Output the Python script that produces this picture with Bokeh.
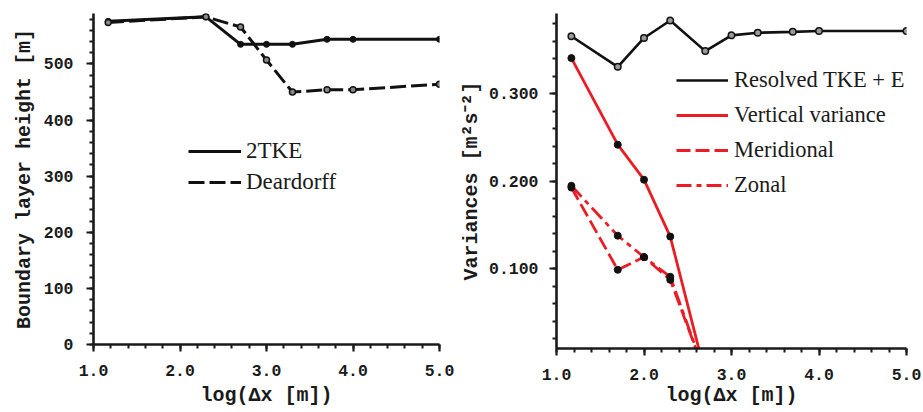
from bokeh.plotting import figure
from bokeh.layouts import row
from bokeh.models import (Range1d, SingleIntervalTicker, NumeralTickFormatter,
                          Legend, LegendItem)
from bokeh.embed import file_html
from bokeh.resources import INLINE

# ---------------- data ----------------
# left panel: boundary layer height [m] vs log10(dx)
x_left = [1.17, 2.30, 2.70, 3.00, 3.30, 3.70, 4.00, 5.00]
bl_2tke = [576, 584, 535, 535, 535, 544, 544, 544]
bl_deardorff = [574, 584, 566, 507, 450, 454, 454, 464]

# right panel: variances [m2 s-2] vs log10(dx)
x_right = [1.17, 1.70, 2.00, 2.30, 2.70, 3.00, 3.30, 3.70, 4.00, 5.00]
resolved_tke_e = [0.366, 0.331, 0.364, 0.384, 0.349, 0.367, 0.370, 0.371, 0.372, 0.372]
x_red = [1.17, 1.70, 2.00, 2.30, 2.70]
vertical_var = [0.341, 0.242, 0.202, 0.137, -0.02]
meridional = [0.193, 0.099, 0.1135, 0.0875, -0.02]
zonal = [0.195, 0.138, 0.1135, 0.091, -0.02]

left_labels = ["2TKE", "Deardorff"]
right_labels = ["Resolved TKE + E", "Vertical variance", "Meridional", "Zonal"]

RED = "#ec1c24"
MONO = "Liberation Mono"
SERIF = "Liberation Serif"


def style(p, xl, yl, yfmt, yint, y_std, y_title_std, x_title_std):
    p.outline_line_color = None
    p.xgrid.visible = False
    p.ygrid.visible = False
    p.background_fill_color = "white"
    p.border_fill_color = "white"
    for ax in (p.xaxis[0], p.yaxis[0]):
        ax.axis_line_width = 2.6
        ax.axis_line_color = "#1a1a1a"
        ax.major_tick_line_width = 2.2
        ax.minor_tick_line_width = 2.0
        ax.major_tick_line_color = "#1a1a1a"
        ax.minor_tick_line_color = "#1a1a1a"
        ax.major_tick_in = 0
        ax.major_tick_out = 7
        ax.minor_tick_in = 0
        ax.minor_tick_out = 4
        ax.major_label_text_font = MONO
        ax.major_label_text_font_size = "16.5px"
        ax.major_label_text_font_style = "bold"
        ax.major_label_text_color = "#1a1a1a"
        ax.axis_label_text_font = MONO
        ax.axis_label_text_font_size = "20px"
        ax.axis_label_text_font_style = "bold"
        ax.axis_label_text_color = "#1a1a1a"
    p.xaxis.axis_label = xl
    p.yaxis.axis_label = yl
    p.xaxis.ticker = SingleIntervalTicker(interval=1, num_minor_ticks=5)
    p.xaxis.formatter = NumeralTickFormatter(format="0.0")
    p.yaxis.ticker = SingleIntervalTicker(interval=yint, num_minor_ticks=5)
    p.yaxis.formatter = NumeralTickFormatter(format=yfmt)
    p.xaxis.major_label_standoff = 13
    p.xaxis.axis_label_standoff = x_title_std
    p.yaxis.major_label_standoff = y_std
    p.yaxis.axis_label_standoff = y_title_std


# ---------------- left figure ----------------
p1 = figure(frame_width=346, frame_height=331, output_backend="svg",
            toolbar_location=None, x_range=Range1d(1.0, 5.0),
            y_range=Range1d(0, 590), min_border_left=93, min_border_right=15,
            min_border_top=13, min_border_bottom=0)
style(p1, "log(Δx [m])", "Boundary layer height [m]", "0", 100, 13, 5, 5)

l1 = p1.line(x_left, bl_2tke, line_color="#111111", line_width=3)
p1.scatter(x_left, bl_2tke, size=6, fill_color="#111111", line_color="#111111")
l2 = p1.line(x_left, bl_deardorff, line_color="#111111", line_width=3,
             line_dash="16 5")
p1.scatter(x_left, bl_deardorff, size=6, fill_color="#888888",
           line_color="#111111", line_width=1.5)

leg1 = Legend(items=[LegendItem(label=left_labels[0], renderers=[l1]),
                     LegendItem(label=left_labels[1], renderers=[l2])],
              location=(95, 149), padding=0, margin=0, spacing=5,
              glyph_width=53, glyph_height=26, label_height=26,
              label_standoff=5, border_line_alpha=0,
              background_fill_alpha=0,
              label_text_font=SERIF, label_text_font_size="23px",
              label_text_color="#1a1a1a")
p1.add_layout(leg1, "center")

# ---------------- right figure ----------------
p2 = figure(frame_width=350, frame_height=335, output_backend="svg",
            toolbar_location=None, x_range=Range1d(1.0, 5.0),
            y_range=Range1d(0.009, 0.392), min_border_left=102,
            min_border_right=15, min_border_top=13, min_border_bottom=0)
style(p2, "log(Δx [m])", "Variances [m²s⁻²]", "0.000", 0.1, 11, 3, 1)

r1 = p2.line(x_right, resolved_tke_e, line_color="#111111", line_width=2.6)
p2.scatter(x_right, resolved_tke_e, size=6.5, fill_color="#999999",
           line_color="#111111", line_width=1.5)
r2 = p2.line(x_red, vertical_var, line_color=RED, line_width=2.8)
r3 = p2.line(x_red, meridional, line_color=RED, line_width=2.8,
             line_dash="14 5")
r4 = p2.line(x_red, zonal, line_color=RED, line_width=2.8,
             line_dash="15 5 5 5")
for ys in (vertical_var, meridional, zonal):
    p2.scatter(x_red, ys, size=7, fill_color="#111111", line_color="#111111")

leg2 = Legend(items=[LegendItem(label=right_labels[0], renderers=[r1]),
                     LegendItem(label=right_labels[1], renderers=[r2]),
                     LegendItem(label=right_labels[2], renderers=[r3]),
                     LegendItem(label=right_labels[3], renderers=[r4])],
              location=(120, 150), padding=0, margin=0, spacing=9,
              glyph_width=52, glyph_height=26, label_height=26,
              label_standoff=6, border_line_alpha=0,
              background_fill_alpha=0,
              label_text_font=SERIF, label_text_font_size="22.5px",
              label_text_color="#1a1a1a")
p2.add_layout(leg2, "center")

layout = row(p1, p2)
open("out.html", "w").write(file_html(layout, INLINE))
